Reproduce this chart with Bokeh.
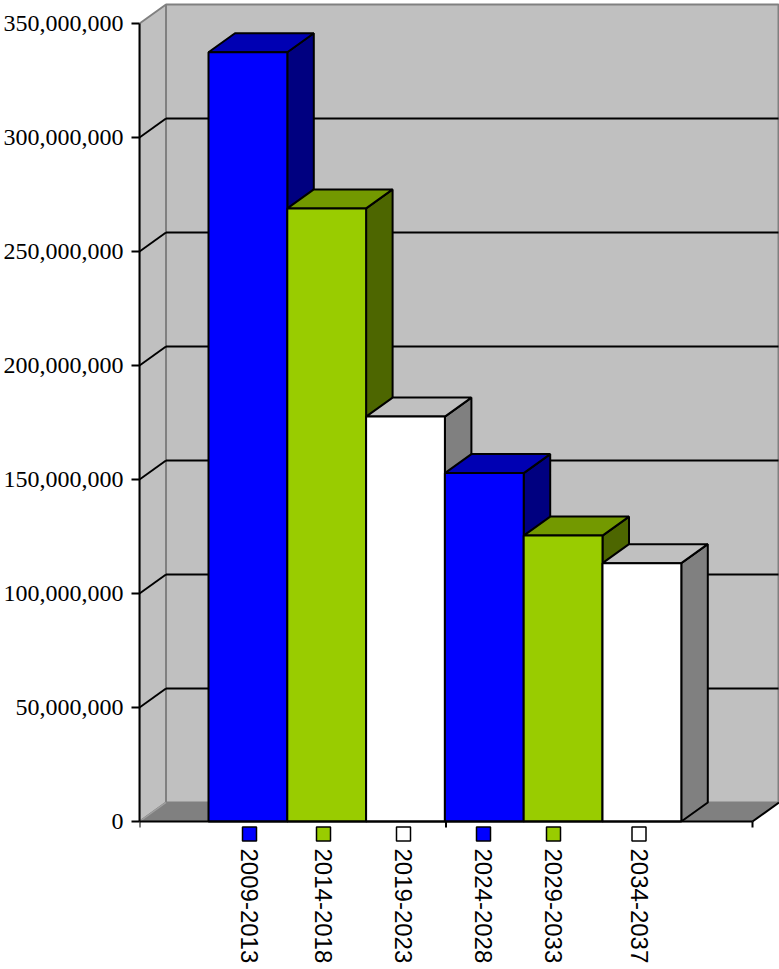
import math
from bokeh.plotting import figure
from bokeh.models import Range1d, NumeralTickFormatter, FixedTicker
from bokeh.embed import file_html
from bokeh.resources import INLINE
from bokeh.core.properties import value

# ---------------- data ----------------
periods = ["2009-2013", "2014-2018", "2019-2023", "2024-2028", "2029-2033", "2034-2037"]
amounts = [337_400_000, 268_900_000, 177_600_000, 152_800_000, 125_400_000, 113_300_000]
front_colors = ["#0000FF", "#99CC00", "#FFFFFF", "#0000FF", "#99CC00", "#FFFFFF"]
top_colors = ["#0000B3", "#739900", "#C0C0C0", "#0000B3", "#739900", "#C0C0C0"]
side_colors = ["#000080", "#4D6600", "#808080", "#000080", "#4D6600", "#808080"]
y_ticks = [0, 50_000_000, 100_000_000, 150_000_000, 200_000_000, 250_000_000, 300_000_000, 350_000_000]
y_max = 350_000_000

# ---------------- layout (reference pixels) ----------------
S = 1.0                       # scale reference -> figure
W, H = 779, 969
axis_x_ref = 139.0
bar0_left_ref = 208.0
bar_w_ref = 78.8
zero_y_ref = 821.0
top_y_ref = 23.0
depth_dx_ref = 26.5
depth_dy_ref = 19.0
axis_end_ref = 752.0
wall_right_ref = 778.0
legend_px_ref = [249, 323, 403, 483, 553, 638.5]
legend_sq_y_ref = 833.5
legend_txt_y_ref = 848.0

px_per_val = (zero_y_ref - top_y_ref) / y_max     # ref px per value unit


def xd(ref_x):
    return (ref_x - bar0_left_ref) / bar_w_ref


def yd(ref_y):
    return (zero_y_ref - ref_y) / px_per_val


frame_left = round(axis_x_ref * S)
x0 = xd(frame_left / S)
x1 = xd(W / S)
y1 = yd(0)
y0 = yd(H / S)
ddx = depth_dx_ref / bar_w_ref
ddy = depth_dy_ref / px_per_val
x_end = xd(axis_end_ref)
x_wall = xd(wall_right_ref)

p = figure(width=W, height=H, output_backend="svg", toolbar_location=None,
           x_range=Range1d(x0, x1), y_range=Range1d(y0, y1),
           x_axis_location=None, min_border_left=frame_left, min_border_right=0,
           min_border_top=0, min_border_bottom=0)
p.grid.visible = False
p.outline_line_color = None
p.background_fill_color = "white"
p.border_fill_color = "white"

# y axis
ya = p.yaxis[0]
ya.bounds = (0, y_max)
ya.ticker = FixedTicker(ticks=y_ticks, minor_ticks=[])
ya.formatter = NumeralTickFormatter(format="0,0")
ya.major_tick_out = 8
ya.major_tick_in = 0
ya.minor_tick_line_color = None
ya.axis_line_width = 2
ya.major_tick_line_width = 2
ya.axis_line_color = "black"
ya.major_tick_line_color = "black"
ya.major_label_standoff = 8
ya.major_label_text_font = "Liberation Serif"
ya.major_label_text_font_size = "24px"
ya.major_label_text_color = "black"

# back wall
p.quad(left=[x0 + ddx], right=[x_wall], bottom=[ddy], top=[y_max + ddy],
       fill_color="#C0C0C0", line_color="#808080", line_width=2)
# left side wall
p.patch([x0, x0, x0 + ddx, x0 + ddx], [0, y_max, y_max + ddy, ddy],
        fill_color="#C0C0C0", line_color="#808080", line_width=2)
# floor
p.patch([x0, x_end, x_end + ddx, x0 + ddx], [0, 0, ddy, ddy],
        fill_color="#808080", line_color="#808080", line_width=1)
p.line([x0, x0 + ddx], [0, ddy], line_color="#A0A0A0", line_width=1.5)
p.line([x_end, x_end + ddx], [0, ddy], line_color="black", line_width=2)

# gridlines
grid_vals = [v for v in y_ticks if 0 < v < y_max]
p.segment(x0=[x0 + ddx] * len(grid_vals), y0=[v + ddy for v in grid_vals],
          x1=[x_wall] * len(grid_vals), y1=[v + ddy for v in grid_vals],
          line_color="black", line_width=2)
p.segment(x0=[x0] * len(grid_vals), y0=grid_vals,
          x1=[x0 + ddx] * len(grid_vals), y1=[v + ddy for v in grid_vals],
          line_color="black", line_width=2)

# bars (left to right so that later fronts cover earlier sides)
for i, v in enumerate(amounts):
    l, r = float(i), float(i + 1)
    p.patch([r, r, r + ddx, r + ddx], [0, v, v + ddy, ddy],
            fill_color=side_colors[i], line_color="black", line_width=2)
    p.patch([l, r, r + ddx, l + ddx], [v, v, v + ddy, v + ddy],
            fill_color=top_colors[i], line_color="black", line_width=2)
    p.quad(left=[l], right=[r], bottom=[0], top=[v],
           fill_color=front_colors[i], line_color="black", line_width=2)

# category axis line and ticks
tick_len = 6 / px_per_val
p.line([x0, x_end], [0, 0], line_color="black", line_width=2)
cat_ticks = [x0, (x0 + x_end) / 2, x_end]
p.segment(x0=cat_ticks, y0=[0] * 3, x1=cat_ticks, y1=[-tick_len] * 3,
          line_color="black", line_width=2)

# legend
lx = [xd(v) for v in legend_px_ref]
p.scatter(x=lx, y=[yd(legend_sq_y_ref)] * len(lx), marker="square", size=14,
          fill_color=front_colors, line_color="black", line_width=1.5)
p.text(x=lx, y=[yd(legend_txt_y_ref)] * len(lx), text=periods, angle=-math.pi / 2,
       text_align="left", text_baseline="middle",
       text_font=value("Liberation Sans"), text_font_size="24px", text_color="black")

open("out.html", "w").write(file_html(p, INLINE))
